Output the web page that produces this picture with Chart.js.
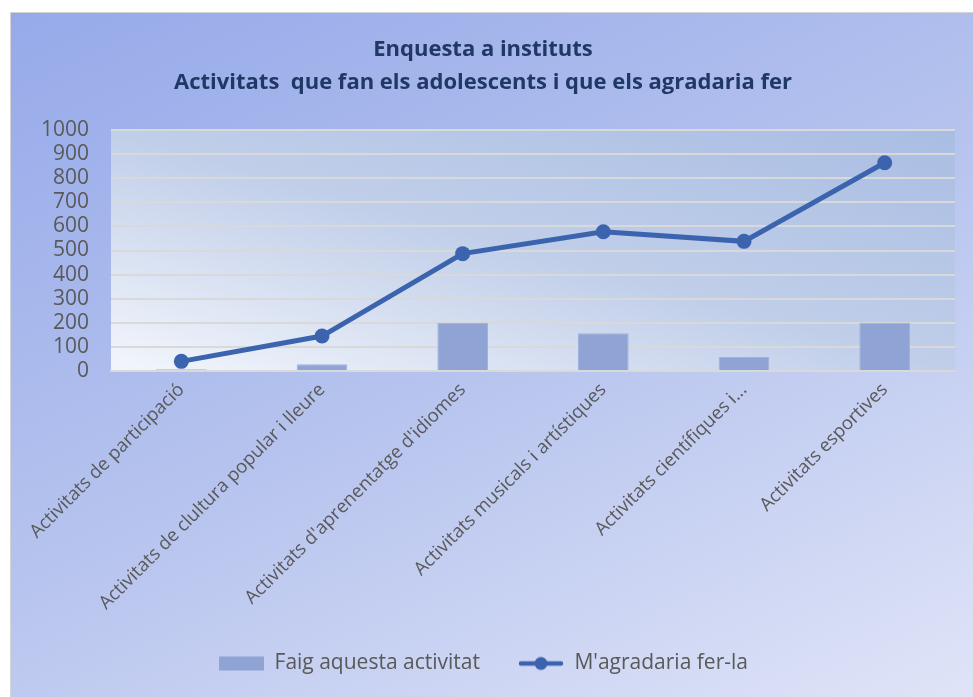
<!DOCTYPE html>
<html>
<head>
<meta charset="utf-8">
<script src="https://cdn.jsdelivr.net/npm/chart.js@4"></script>
<style>
  html, body { margin: 0; padding: 0; background: #fff; }
  #wrap {
    position: absolute; left: 10px; top: 12px; width: 962px; height: 684px;
    border-left: 1px solid #d4d4d4; border-top: 1px solid #d4d4d4;
    background: linear-gradient(155deg, #96aaea 0%, #b6c3ee 50%, #dfe4f7 100%);
  }
</style>
</head>
<body>
<div id="wrap"><canvas id="chart"></canvas></div>
<script>
const categories = [
  'Activitats de participació',
  'Activitats de clultura popular i lleure',
  "Activitats d'aprenentatge d'idiomes",
  'Activitats musicals i artístiques',
  'Activitats científiques i...',
  'Activitats esportives'
];
const faigValues = [7, 28, 200, 157, 58, 200];
const agradariaValues = [40, 145, 487, 578, 538, 864];
const yTicks = [0, 100, 200, 300, 400, 500, 600, 700, 800, 900, 1000];

const fontFamily = '"Open Sans", Lato, sans-serif';
const barColor = '#8fa3d4';
const lineColor = '#3c64ae';

// legend swatches
function makeSwatch(kind) {
  const c = document.createElement('canvas');
  c.width = 46; c.height = 16;
  const g = c.getContext('2d');
  if (kind === 'bar') {
    g.fillStyle = barColor;
    g.fillRect(1, 1, 45, 14);
  } else {
    g.strokeStyle = lineColor;
    g.lineWidth = 4.5;
    g.lineCap = 'round';
    g.beginPath(); g.moveTo(3, 8); g.lineTo(43, 8); g.stroke();
    g.fillStyle = lineColor;
    g.beginPath(); g.arc(23, 8, 6.5, 0, Math.PI * 2); g.fill();
  }
  return c;
}
const swatches = { bar: makeSwatch('bar'), line: makeSwatch('line') };

const plotBg = {
  id: 'plotBg',
  beforeDraw(chart) {
    const { ctx, chartArea: a } = chart;
    const grad = ctx.createLinearGradient(a.left, a.bottom, a.left + 127, a.bottom - 446);
    grad.addColorStop(0, '#f3f6fc');
    grad.addColorStop(0.5, '#c0cee9');
    grad.addColorStop(1, '#a9bde3');
    ctx.save();
    ctx.fillStyle = grad;
    ctx.fillRect(a.left, a.top, a.right - a.left, a.bottom - a.top);
    ctx.restore();
  }
};

new Chart(document.getElementById('chart'), {
  type: 'bar',
  data: {
    labels: categories,
    datasets: [
      {
        type: 'line',
        label: "M'agradaria fer-la",
        data: agradariaValues,
        borderColor: lineColor,
        backgroundColor: lineColor,
        borderWidth: 5,
        pointRadius: 7.5,
        pointHoverRadius: 7.5,
        pointBackgroundColor: lineColor,
        pointBorderWidth: 0,
        order: 0
      },
      {
        label: 'Faig aquesta activitat',
        data: faigValues,
        backgroundColor: barColor,
        borderColor: '#9fb1dc',
        borderWidth: 1,
        categoryPercentage: 1,
        barPercentage: 0.36,
        order: 1
      }
    ]
  },
  options: {
    responsive: true,
    maintainAspectRatio: false,
    animation: false,
    layout: { padding: { left: 0, right: 18, top: 6, bottom: 13 } },
    plugins: {
      title: {
        display: true,
        text: ['Enquesta a instituts', 'Activitats  que fan els adolescents i que els agradaria fer'],
        color: '#1f3864',
        font: { family: fontFamily, size: 22, weight: 'bold', lineHeight: 1.5 },
        padding: { top: 14, bottom: 31 }
      },
      legend: {
        position: 'bottom',
        reverse: true,
        labels: {
          usePointStyle: true,
          pointStyleWidth: 46,
          boxHeight: 16,
          padding: 38,
          color: '#595959',
          font: { family: fontFamily, size: 21 },
          generateLabels(chart) {
            const items = Chart.defaults.plugins.legend.labels.generateLabels(chart);
            items.forEach(it => {
              it.pointStyle = chart.data.datasets[it.datasetIndex].type === 'line' ? swatches.line : swatches.bar;
            });
            return items;
          }
        }
      },
      tooltip: { enabled: false }
    },
    scales: {
      x: {
        afterFit(axis) { axis.height = 244; },
        grid: { display: false },
        border: { display: true, color: '#d9d9d9', width: 2 },
        ticks: {
          color: '#595959',
          font: { family: fontFamily, size: 18.5 },
          maxRotation: 45,
          minRotation: 45,
          autoSkip: false,
          padding: 0
        }
      },
      y: {
        min: 0,
        max: 1000,
        afterBuildTicks(axis) { axis.ticks = yTicks.map(v => ({ value: v })); },
        afterFit(axis) { axis.width = 100; },
        grid: { color: '#d9d9d9', lineWidth: 2, drawTicks: false },
        border: { display: false },
        ticks: {
          color: '#595959',
          font: { family: fontFamily, size: 21 },
          padding: 22,
          autoSkip: false,
          callback: v => String(v)
        }
      }
    }
  },
  plugins: [plotBg]
});
</script>
</body>
</html>
